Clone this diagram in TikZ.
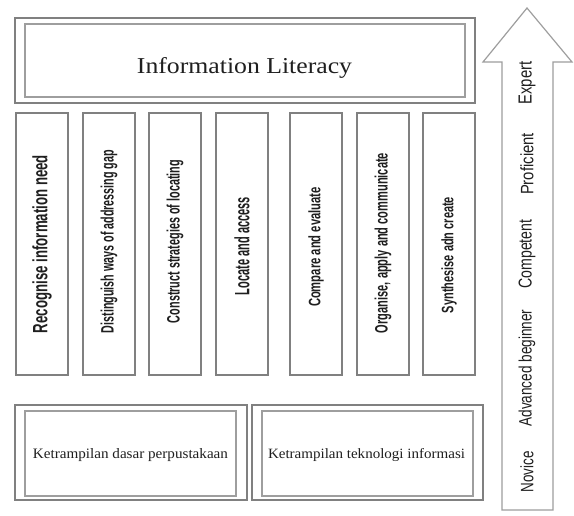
\documentclass[tikz,border=0pt]{standalone}
\usepackage{fontspec}
\setmainfont{Liberation Serif}
\setsansfont{Liberation Sans}
\usepackage{graphicx}
\definecolor{linegray}{gray}{0.5}
\definecolor{innergray}{gray}{0.62}
\definecolor{txt}{gray}{0.12}
\newcommand\fitlab[3]{\resizebox{#1pt}{#2pt}{#3}}
\begin{document}
\begin{tikzpicture}[x=1pt,y=-1pt,
  outerbox/.style={draw=linegray, line width=1.6pt, inner sep=0pt},
  innerbox/.style={draw=innergray, line width=1.1pt, inner sep=0pt},
  colbox/.style={draw=linegray, line width=1.4pt, inner sep=0pt, minimum width=52pt, minimum height=262pt},
  vlab/.style={rotate=90, inner sep=0pt, text=txt, font=\sffamily\bfseries},
  alab/.style={rotate=90, inner sep=0pt, text=txt, font=\sffamily},
  hlab/.style={inner sep=0pt, text=txt, font=\rmfamily},
  arrowshape/.style={draw=innergray, line width=1.2pt, fill=white}]
\fill[white] (0,0) rectangle (574,516);
\useasboundingbox (0,0) rectangle (574,516);
% top box
\node[outerbox, minimum width=460pt, minimum height=85pt] (topout) at (245,60.5) {};
\node[innerbox, minimum width=440pt, minimum height=73pt] (topin) at (245,60.5) {};
\node[hlab] (title) at (244.5,68) {\fitlab{215}{16}{Information Literacy}};
% columns
\node[colbox] (c1) at (42,244) {};
\node[colbox] (c2) at (109,244) {};
\node[colbox] (c3) at (175,244) {};
\node[colbox] (c4) at (242,244) {};
\node[colbox] (c5) at (316,244) {};
\node[colbox] (c6) at (383,244) {};
\node[colbox] (c7) at (449,244) {};
\node[vlab] (l1) at (42,244) {\fitlab{178}{15}{Recognise information need}};
\node[vlab] (l2) at (109,241.5) {\fitlab{183}{13}{Distinguish ways of addressing gap}};
\node[vlab] (l3) at (175,241.5) {\fitlab{163}{13}{Construct strategies of locating}};
\node[vlab] (l4) at (242,246) {\fitlab{98}{15}{Locate and access}};
\node[vlab] (l5) at (316,247) {\fitlab{120}{12}{Compare and evaluate}};
\node[vlab] (l6) at (383,243) {\fitlab{180}{13}{Organise, apply and communicate}};
\node[vlab] (l7) at (449,255) {\fitlab{116}{12}{Synthesise adn create}};
% bottom boxes
\node[outerbox, minimum width=232pt, minimum height=95pt] (b1out) at (131,452.5) {};
\node[innerbox, minimum width=211pt, minimum height=85pt] (b1in) at (130.5,453.5) {};
\node[hlab] (b1t) at (130.5,455) {\fitlab{195}{10}{Ketrampilan dasar perpustakaan}};
\node[outerbox, minimum width=231pt, minimum height=95pt] (b2out) at (367.5,452.5) {};
\node[innerbox, minimum width=211pt, minimum height=85pt] (b2in) at (367.5,453.5) {};
\node[hlab] (b2t) at (366.5,455) {\fitlab{197}{10}{Ketrampilan teknologi informasi}};
% arrow
\draw[arrowshape] (502,510) -- (502,62) -- (483,62) -- (527,8) -- (572,62) -- (553,62) -- (553,510) -- cycle;
\node[alab] (a1) at (527,472) {\fitlab{41}{13}{Novice}};
\node[alab] (a2) at (527,368) {\fitlab{117}{13}{Advanced beginner}};
\node[alab] (a3) at (527,254) {\fitlab{69}{13}{Competent}};
\node[alab] (a4) at (527,164) {\fitlab{62}{13}{Proficient}};
\node[alab] (a5) at (527,83) {\fitlab{43}{13}{Expert}};
\end{tikzpicture}
\end{document}
